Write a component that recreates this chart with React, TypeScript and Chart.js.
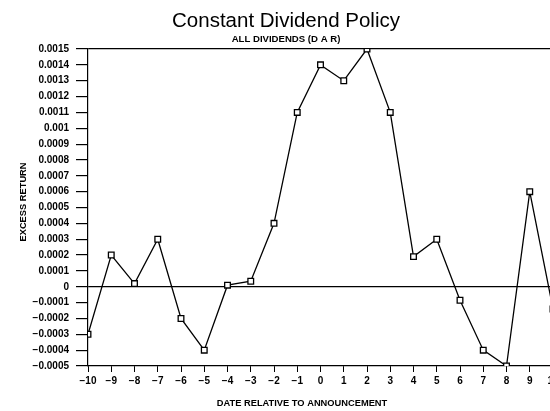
import React, { useEffect, useRef } from "react";
import { Chart, registerables } from "chart.js";

Chart.register(...registerables);

const titleText = "Constant Dividend Policy";
const subtitleText = "ALL DIVIDENDS (D A R)";
const yAxisTitle = "EXCESS RETURN";
const xAxisTitle = "DATE RELATIVE TO ANNOUNCEMENT";

const days = [-10, -9, -8, -7, -6, -5, -4, -3, -2, -1, 0, 1, 2, 3, 4, 5, 6, 7, 8, 9, 10];
const excessReturn = [
  -0.0003, 0.0002, 0.00002, 0.0003, -0.0002, -0.0004, 0.00001, 0.000035, 0.0004, 0.0011,
  0.0014, 0.0013, 0.0015, 0.0011, 0.00019, 0.0003, -0.000085, -0.0004, -0.0005, 0.0006, -0.00014,
];

const xMin = -10;
const xMax = 10;
const yMin = -0.0005;
const yMax = 0.0015;
const yStep = 0.0001;

const fmt = (v: number) => {
  const s = Number(v.toFixed(4)).toString();
  return s.replace("-", "\u2212");
};

const textPlugin = {
  id: "textPlugin",
  afterDraw(chart: any) {
    const ctx = chart.ctx;
    ctx.save();
    ctx.fillStyle = "#000";
    ctx.textAlign = "center";
    ctx.textBaseline = "alphabetic";
    ctx.font = '20.5px "Liberation Sans"';
    ctx.fillText(titleText, 286, 27);
    ctx.font = 'bold 9.6px "Liberation Sans"';
    ctx.fillText(subtitleText, 286, 42);
    ctx.font = 'bold 9.3px "Liberation Sans"';
    ctx.fillText(xAxisTitle, 302, 406);
    ctx.translate(26, 202);
    ctx.rotate(-Math.PI / 2);
    ctx.fillText(yAxisTitle, 0, 0);
    ctx.restore();
  },
};

export default function App() {
  const ref = useRef<HTMLCanvasElement>(null);
  useEffect(() => {
    if (!ref.current) return;
    const chart = new Chart(ref.current, {
      type: "line",
      data: {
        datasets: [
          {
            data: days.map((d, i) => ({ x: d, y: excessReturn[i] })),
            borderColor: "#000",
            borderWidth: 1.3,
            pointStyle: "rect",
            pointRadius: 4,
            pointBorderWidth: 1.3,
            pointBorderColor: "#000",
            pointBackgroundColor: "#fff",
            tension: 0,
            fill: false,
          },
        ],
      },
      options: {
        responsive: false,
        animation: false,
        devicePixelRatio: 1,
        layout: { padding: { top: 49, right: 19, left: 0, bottom: 0 } },
        plugins: {
          legend: { display: false },
          tooltip: { enabled: false },
          title: { display: false },
        },
        scales: {
          x: {
            type: "linear",
            min: xMin,
            max: xMax,
            afterFit: (s: any) => {
              s.height = 45;
            },
            ticks: {
              stepSize: 1,
              color: "#000",
              padding: 3,
              font: { family: '"Liberation Sans"', size: 10, weight: "bold" },
              callback: (v: any) => fmt(Number(v)),
              maxRotation: 0,
              autoSkip: false,
            },
            grid: {
              color: "rgba(0,0,0,0)",
              tickColor: "#000",
              tickLength: 6,
              drawTicks: true,
            },
            border: { display: true, color: "#000", width: 1.2 },
          },
          y: {
            type: "linear",
            min: yMin,
            max: yMax,
            afterFit: (s: any) => {
              s.width = 88;
            },
            ticks: {
              stepSize: yStep,
              color: "#000",
              padding: 7,
              font: { family: '"Liberation Sans"', size: 10, weight: "bold" },
              callback: (v: any) => fmt(Number(v)),
              autoSkip: false,
            },
            grid: {
              color: (c: any) => {
                const v = c.tick ? c.tick.value : NaN;
                if (Math.abs(v) < 1e-9 || Math.abs(v - yMax) < 1e-9) return "#000";
                return "rgba(0,0,0,0)";
              },
              lineWidth: 1.2,
              tickColor: "#000",
              tickLength: 12,
              drawTicks: true,
            },
            border: { display: true, color: "#000", width: 1.2 },
          },
        },
      },
      plugins: [textPlugin],
    });
    return () => chart.destroy();
  }, []);
  return (
    <div
      style={{
        position: "fixed",
        left: 0,
        top: 0,
        width: 550,
        height: 411,
        overflow: "hidden",
        background: "#fff",
      }}
    >
      <canvas ref={ref} width={572} height={411} style={{ display: "block" }} />
    </div>
  );
}
